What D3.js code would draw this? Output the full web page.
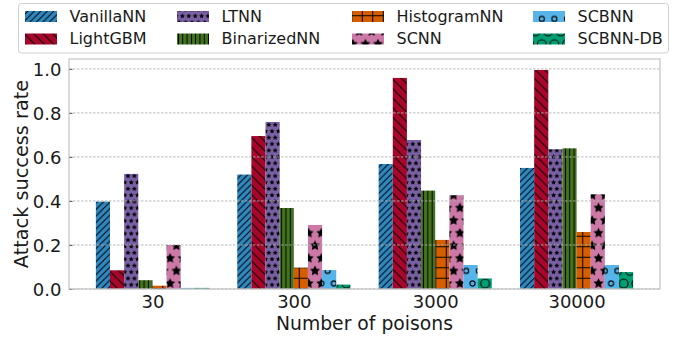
<!DOCTYPE html>
<html><head><meta charset="utf-8">
<script src="https://cdn.jsdelivr.net/npm/d3@7"></script>
<style>body{margin:0;background:#fff}svg{display:block}text{font-family:"DejaVu Sans",sans-serif;fill:#1a1a1a}</style>
</head><body><svg id="c" width="681" height="337"></svg>
<script>
const categories = ["30","300","3000","30000"];
const seriesNames = ["VanillaNN","LightGBM","LTNN","BinarizedNN","HistogramNN","SCNN","SCBNN","SCBNN-DB"];
const VanillaNN   = [0.397,0.520,0.568,0.550];
const LightGBM    = [0.085,0.695,0.959,0.995];
const LTNN        = [0.523,0.759,0.677,0.635];
const BinarizedNN = [0.040,0.368,0.447,0.639];
const HistogramNN = [0.015,0.097,0.223,0.259];
const SCNN        = [0.200,0.291,0.426,0.430];
const SCBNN       = [0.005,0.086,0.109,0.109];
const SCBNN_DB    = [0.005,0.020,0.048,0.077];
const seriesValues = [VanillaNN,LightGBM,LTNN,BinarizedNN,HistogramNN,SCNN,SCBNN,SCBNN_DB];
const colors = ["#2f88c0","#a8072b","#7a61a6","#43731d","#d55e00","#cc79a7","#56b4e9","#009e73"];
const hatches = ["slash","backslash","smallstar","vline","plus","bigstar","smallcircle","bigcircle"];
const yTicks = [0,0.2,0.4,0.6,0.8,1.0];

const svg = d3.select("#c");
const L=69,R=660,T=59,B=289;
const x = d3.scaleLinear().domain([-0.59,3.59]).range([L,R]);
const y = d3.scaleLinear().domain([0,1.045]).range([B,T]);
const bw = 0.1;

const defs = svg.append("defs");
function starPath(cx,cy,r){
  let p="";
  for(let i=0;i<10;i++){
    const rr = i%2===0?r:r*0.5;
    const a = -Math.PI/2 + i*Math.PI/5;
    p += (i===0?"M":"L")+(cx+rr*Math.cos(a)).toFixed(2)+","+(cy+rr*Math.sin(a)).toFixed(2);
  }
  return p+"Z";
}
hatches.forEach((h,i)=>{
  const c = colors[i];
  let w,hgt;
  const pat = defs.append("pattern").attr("id","p"+i).attr("patternUnits","userSpaceOnUse");
  if(h==="slash"){
    const s=6.5; w=s;hgt=s;
    pat.append("rect").attr("width",w).attr("height",hgt).attr("fill",c);
    pat.append("path").attr("d",`M0,${s}L${s},0M${-s/2},${s/2}L${s/2},${-s/2}M${s/2},${s*1.5}L${s*1.5},${s/2}`).attr("stroke","#000").attr("stroke-width",1);
  } else if(h==="backslash"){
    const s=9.5; w=s;hgt=s;
    pat.append("rect").attr("width",w).attr("height",hgt).attr("fill",c);
    pat.append("path").attr("d",`M0,0L${s},${s}M${-s/2},${s/2}L${s/2},${s*1.5}M${s/2},${-s/2}L${s*1.5},${s/2}`).attr("stroke","#000").attr("stroke-width",1);
  } else if(h==="vline"){
    const s=4.3; w=s;hgt=s;
    pat.append("rect").attr("width",w).attr("height",hgt).attr("fill",c);
    pat.append("path").attr("d",`M${s/2},0L${s/2},${s}`).attr("stroke","#000").attr("stroke-width",1);
  } else if(h==="plus"){
    const s=10.5; w=s;hgt=s;
    pat.append("rect").attr("width",w).attr("height",hgt).attr("fill",c);
    pat.append("path").attr("d",`M${s/2},0L${s/2},${s}M0,${s/2}L${s},${s/2}`).attr("stroke","#000").attr("stroke-width",1);
  } else if(h==="smallstar"||h==="bigstar"){
    const r = h==="smallstar"?6.4:12.6; w=r;hgt=2*r;
    const sr = r/3*1.25;
    pat.append("rect").attr("width",w).attr("height",hgt).attr("fill",c);
    pat.append("path").attr("d",starPath(r/2,r/2,sr)+starPath(0,1.5*r,sr)+starPath(r,1.5*r,sr)).attr("fill","#000");
  } else {
    const r=12.6; w=r;hgt=2*r;
    const cr = h==="smallcircle"?r*0.2:r*0.35;
    pat.append("rect").attr("width",w).attr("height",hgt).attr("fill",c);
    [[r/2,r/2],[0,1.5*r],[r,1.5*r],[0,-0.5*r],[r,-0.5*r],[r/2,2.5*r]].forEach(([cx,cy])=>{
      pat.append("circle").attr("cx",cx).attr("cy",cy).attr("r",cr).attr("fill","none").attr("stroke","#000").attr("stroke-width",1.1);
    });
  }
  pat.attr("width",w).attr("height",hgt);
});

// bars
seriesValues.forEach((vals,si)=>{
  svg.append("g").selectAll("rect").data(vals).join("rect")
    .attr("x",(d,ci)=>x(ci-0.4+si*bw))
    .attr("width",x(bw)-x(0))
    .attr("y",d=>y(d))
    .attr("height",d=>y(0)-y(d))
    .attr("fill",`url(#p${si})`);
});

// grid
svg.append("g").selectAll("line").data(yTicks).join("line")
  .attr("x1",L).attr("x2",R).attr("y1",d=>y(d)).attr("y2",d=>y(d))
  .attr("stroke","#b0b0b0").attr("stroke-width",0.9).attr("stroke-dasharray","2.5,1.5");

// y axis
const ya = svg.append("g").attr("transform",`translate(${L},0)`)
  .call(d3.axisLeft(y).tickValues(yTicks).tickFormat(d3.format(".1f")).tickSizeInner(-3.5).tickSizeOuter(0).tickPadding(7.5));
ya.select(".domain").remove();
ya.selectAll(".tick line").attr("stroke","#444").attr("stroke-width",0.9);
ya.selectAll(".tick text").attr("font-size",18).attr("font-family","DejaVu Sans").attr("fill","#1a1a1a").attr("dy","0.36em");

// x axis
const xa = svg.append("g").attr("transform",`translate(0,${B})`)
  .call(d3.axisBottom(x).tickValues(d3.range(categories.length)).tickFormat(i=>categories[i]).tickSize(0).tickPadding(0));
xa.select(".domain").remove();
xa.selectAll(".tick text").attr("font-size",18).attr("font-family","DejaVu Sans").attr("fill","#1a1a1a").attr("dy",null).attr("y",19);

// frame
svg.append("rect").attr("x",L).attr("y",T).attr("width",R-L).attr("height",B-T)
  .attr("fill","none").attr("stroke","#c4c4c4").attr("stroke-width",1.2);

// axis labels
svg.append("text").attr("x",(L+R)/2).attr("y",330).attr("text-anchor","middle").attr("font-size",18.8).text("Number of poisons");
svg.append("text").attr("transform",`translate(28,${(T+B)/2}) rotate(-90)`).attr("text-anchor","middle").attr("font-size",19.3).text("Attack success rate");

// legend
const lg = svg.append("g");
lg.append("rect").attr("x",18.5).attr("y",3.5).attr("width",650).attr("height",49.5).attr("rx",3)
  .attr("fill","#fff").attr("fill-opacity",0.8).attr("stroke","#d0d0d0").attr("stroke-width",1);
const colX = [25,177,352,533];
const rowY = [11,33.5];
seriesNames.forEach((n,i)=>{
  const col = Math.floor(i/2), row = i%2;
  lg.append("rect").attr("x",colX[col]).attr("y",rowY[row]).attr("width",32).attr("height",11).attr("fill",`url(#p${i})`);
  lg.append("text").attr("x",colX[col]+44.5).attr("y",rowY[row]+10.5).attr("font-size",16).text(n);
});
</script></body></html>
